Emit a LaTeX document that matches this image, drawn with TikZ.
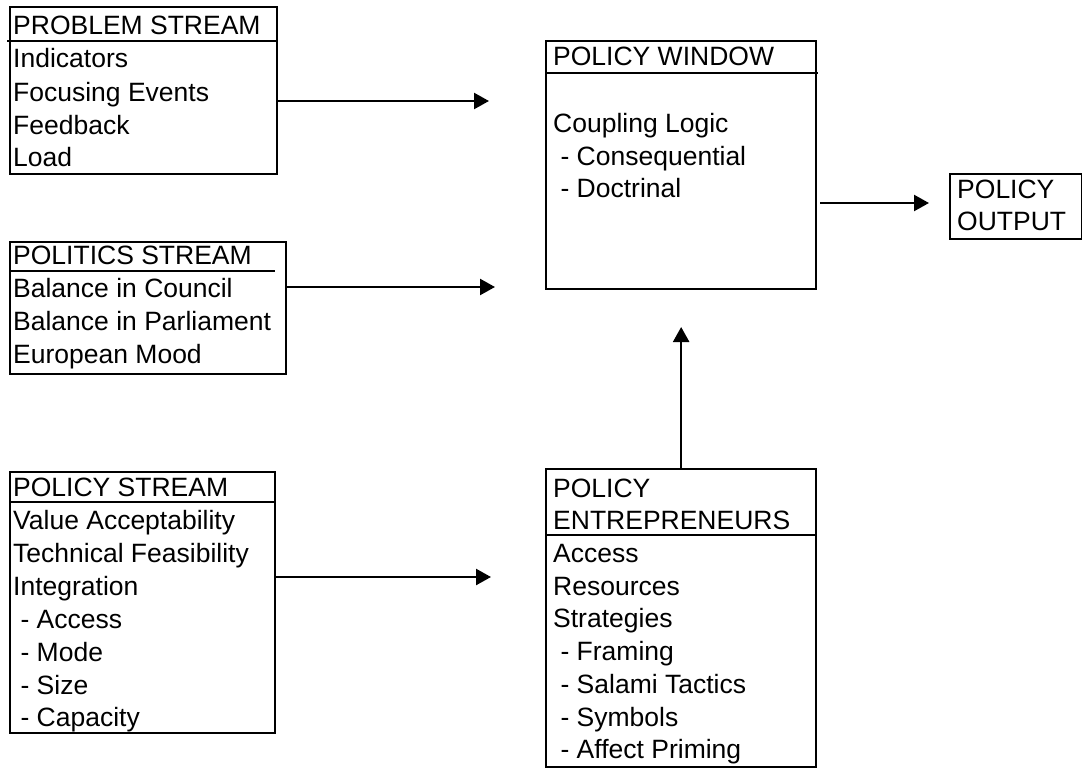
\documentclass[tikz,border=0pt]{standalone}
\usepackage{fontspec}
\setmainfont{Liberation Sans}
\usetikzlibrary{arrows.meta}
\begin{document}
\begin{tikzpicture}[x=1pt,y=-1pt,
  box/.style={draw, line width=2.3pt, inner sep=0pt, anchor=north west},
  hdr/.style={line width=2pt},
  txt/.style={inner sep=0pt, anchor=base west, font=\fontsize{26.5}{32}\selectfont},
  arr/.style={line width=2.4pt, -{Triangle[length=15pt,width=16pt]}}]
\useasboundingbox (0,0) rectangle (1082,768);

% PROBLEM STREAM
\node[box, minimum width=267pt, minimum height=167pt] (ps) at (9,6) {};
\draw[hdr] (7,41) -- (276,41);
\node[txt] (ps1) at (13,35) {PROBLEM STREAM};
\node[txt] (ps2) at (13,68) {Indicators};
\node[txt] (ps3) at (13,101) {Focusing Events};
\node[txt] (ps4) at (13,134) {Feedback};
\node[txt] (ps5) at (13,166) {Load};

% POLITICS STREAM
\node[box, minimum width=276pt, minimum height=132pt] (pl) at (9,241) {};
\draw[hdr] (10,271) -- (275,271);
\node[txt] (pl1) at (13,264) {POLITICS STREAM};
\node[txt] (pl2) at (13,297) {Balance in Council};
\node[txt] (pl3) at (13,330) {Balance in Parliament};
\node[txt] (pl4) at (13,363) {European Mood};

% POLICY STREAM
\node[box, minimum width=265pt, minimum height=261pt] (py) at (9,471) {};
\draw[hdr] (9,502) -- (274,502);
\node[txt] (py1) at (13,496) {POLICY STREAM};
\node[txt] (py2) at (13,529) {Value Acceptability};
\node[txt] (py3) at (13,562) {Technical Feasibility};
\node[txt] (py4) at (13,595) {Integration};
\node[txt] (py5) at (13,628) {\ - Access};
\node[txt] (py6) at (13,661) {\ - Mode};
\node[txt] (py7) at (13,694) {\ - Size};
\node[txt] (py8) at (13,726) {\ - Capacity};

% POLICY WINDOW
\node[box, minimum width=270pt, minimum height=248pt] (pw) at (545,40) {};
\draw[hdr] (545,73) -- (818,73);
\node[txt] (pw1) at (553,66) {POLICY WINDOW};
\node[txt] (pw2) at (553,132) {Coupling Logic};
\node[txt] (pw3) at (553,165) {\ - Consequential};
\node[txt] (pw4) at (553,197) {\ - Doctrinal};

% POLICY OUTPUT
\node[box, minimum width=132pt, minimum height=65pt] (po) at (949,173) {};
\node[txt] (po1) at (957,198) {POLICY};
\node[txt] (po2) at (957,230) {OUTPUT};

% POLICY ENTREPRENEURS
\node[box, minimum width=270pt, minimum height=298pt] (pe) at (545,468) {};
\draw[hdr] (545,535) -- (815,535);
\node[txt] (pe1) at (553,497) {POLICY};
\node[txt] (pe2) at (553,529) {ENTREPRENEURS};
\node[txt] (pe3) at (553,562) {Access};
\node[txt] (pe4) at (553,595) {Resources};
\node[txt] (pe5) at (553,627) {Strategies};
\node[txt] (pe6) at (553,660) {\ - Framing};
\node[txt] (pe7) at (553,693) {\ - Salami Tactics};
\node[txt] (pe8) at (553,726) {\ - Symbols};
\node[txt] (pe9) at (553,758) {\ - Affect Priming};

% connectors
\coordinate (a1) at (489,101);
\coordinate (a2) at (495,287);
\coordinate (a3) at (491,577);
\coordinate (a4s) at (820,203);
\coordinate (a4) at (929,203);
\coordinate (a5) at (680,327);
\draw[arr] (ps.east |- a1) -- (a1);
\draw[arr] (pl.east |- a2) -- (a2);
\draw[arr] (py.east |- a3) -- (a3);
\draw[arr] (a4s) -- (a4);
\draw[arr] (pe.north) -- (pe.north |- a5);
\end{tikzpicture}
\end{document}
